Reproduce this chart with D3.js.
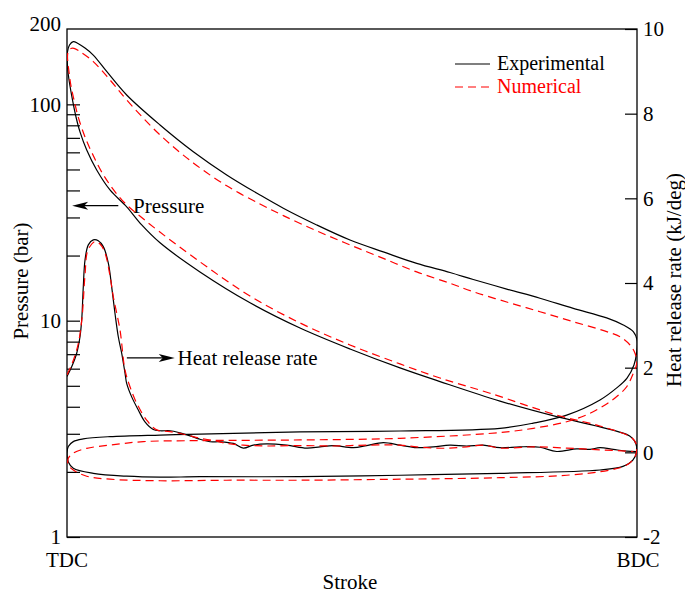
<!DOCTYPE html>
<html>
<head>
<meta charset="utf-8">
<script src="https://cdn.jsdelivr.net/npm/d3@7"></script>
<style>
body { margin: 0; background: #fff; }
text { font-family: "Liberation Serif", "Times New Roman", serif; font-size: 21px; fill: #000; }
</style>
</head>
<body>
<div id="chart"></div>
<script>
// stroke is 0 at TDC and 1 at BDC; pressure in bar; heat release in kJ/deg
var expPressure = [
    [0.0005,157],[0.0009,175],[0.0044,188],[0.011,195],[0.0193,191],[0.0316,182],[0.0461,169],
    [0.0696,142],[0.1047,110.5],[0.1632,80.3],[0.2216,60.4],[0.2802,47.2],[0.3386,38.1],
    [0.3795,33.1],[0.4381,27.7],[0.4965,23.6],[0.5549,20.8],[0.6135,18.4],[0.6719,16.7],
    [0.7128,15.5],[0.7714,14.0],[0.8298,12.7],[0.8882,11.4],[0.9468,10.3],[0.976,9.55],
    [0.9935,8.9],[1.0,8.14],[0.9995,7.17],[0.9947,6.24],[0.9825,5.43],[0.9644,4.89],
    [0.9351,4.30],[0.8767,3.66],[0.8181,3.36],[0.7596,3.18],[0.5842,3.09],[0.4088,3.06],
    [0.2333,2.99],[0.1632,2.96],[0.0754,2.91],[0.0286,2.84],[0.011,2.76],[0.0023,2.62],
    [0,2.44],[0.0023,2.22],[0.011,2.08],[0.0461,1.97],[0.1047,1.91],[0.1632,1.89],
    [0.2333,1.90],[0.4088,1.90],[0.5842,1.93],[0.7596,1.97],[0.9351,2.04],[0.9754,2.12],
    [0.993,2.27],[0.9991,2.47],[0.9982,2.69],[0.9912,2.87],[0.9819,2.98],[0.9351,3.23],
    [0.8591,3.60],[0.7596,4.25],[0.6544,5.23],[0.5842,6.05],[0.4965,7.40],[0.4088,9.25],
    [0.3211,12.1],[0.2333,16.8],[0.1632,22.9],[0.1311,27.7],[0.1047,33.6],[0.0754,40.2],
    [0.0521,49.7],[0.0346,61.5],[0.0228,74.6],[0.0158,87.4],[0.0096,104.8],[0.0023,137]
]

var numPressure = [
    [0.0026,176.6],[0.007,181.3],[0.0123,181.3],[0.0228,175.3],[0.0461,157.6],[0.0754,129.7],
    [0.1047,104.8],[0.1632,72.2],[0.2216,53.6],[0.2802,42.0],[0.3386,34.6],[0.3795,30.6],
    [0.4381,26.0],[0.4965,22.4],[0.5549,19.4],[0.6135,16.8],[0.6719,14.9],[0.7128,13.6],
    [0.7714,12.2],[0.8298,11.0],[0.8882,9.89],[0.9468,8.90],[0.9702,8.43],[0.9877,7.72],
    [0.9965,7.07],[0.9995,6.35],[0.9935,5.71],[0.9819,4.95],[0.9614,4.39],[0.9439,4.08],
    [0.9175,3.73],[0.8767,3.41],[0.8181,3.18],[0.7596,3.04],[0.5842,2.86],[0.4088,2.81],
    [0.2333,2.79],[0.1339,2.76],[0.0754,2.66],[0.0346,2.57],[0.011,2.44],[0.0023,2.31],
    [0.0023,2.15],[0.011,2.04],[0.0346,1.91],[0.0754,1.85],[0.1632,1.82],[0.2802,1.83],
    [0.4088,1.83],[0.5842,1.85],[0.7596,1.88],[0.8767,1.93],[0.9526,2.04],[0.9819,2.15],
    [0.9965,2.35],[0.9995,2.62],[0.9947,2.81],[0.986,2.93],[0.9351,3.26],[0.8591,3.66],
    [0.7421,4.62],[0.6544,5.43],[0.5842,6.31],[0.4965,7.72],[0.4088,9.76],[0.3211,13.0],
    [0.2333,18.7],[0.1398,28.7],[0.0965,36.1],[0.0649,46.7],[0.0439,59.6],[0.0316,70.7],
    [0.0202,86.5],[0.0123,104.8],[0.007,121.6],[0.0035,141.2],[0.0009,167.4]
]

var expHeat = [
    [0,1.79],[0.0082,2.02],[0.017,2.34],[0.0228,2.73],[0.0258,3.13],[0.0286,3.91],[0.0316,4.54],
    [0.0374,4.90],[0.0461,5.02],[0.0549,5.00],[0.0637,4.86],[0.0725,4.47],[0.0784,3.91],
    [0.0842,3.28],[0.09,2.73],[0.096,2.34],[0.1018,1.87],[0.1047,1.63],[0.1135,1.31],
    [0.1251,1.00],[0.1368,0.72],[0.1514,0.54],[0.1632,0.51],[0.1807,0.51],[0.1982,0.46],
    [0.2158,0.39],[0.2333,0.31],[0.2509,0.25],[0.2684,0.25],[0.2918,0.21],[0.3093,0.10],
    [0.3268,0.17],[0.3504,0.20],[0.3854,0.17],[0.4205,0.10],[0.4439,0.13],[0.4672,0.16],
    [0.5023,0.11],[0.5258,0.16],[0.5549,0.23],[0.5842,0.17],[0.6135,0.11],[0.6426,0.13],
    [0.6719,0.17],[0.7012,0.15],[0.7304,0.17],[0.7596,0.11],[0.7947,0.13],[0.8298,0.12],
    [0.8591,0.02],[0.8942,0.08],[0.9175,0.07],[0.9351,0.11],[0.9584,0.07],[0.9819,0.03],[1.0,0.02]
]

var numHeat = [
    [0,1.83],[0.0088,2.09],[0.0193,2.54],[0.0263,3.17],[0.0316,4.19],[0.0368,4.78],[0.0491,4.98],
    [0.0579,4.92],[0.0667,4.71],[0.0754,4.17],[0.0812,3.68],[0.093,2.89],[0.1018,1.94],
    [0.1105,1.55],[0.1223,1.16],[0.1398,0.76],[0.1574,0.53],[0.1807,0.49],[0.21,0.41],
    [0.2333,0.33],[0.2567,0.28],[0.2802,0.21],[0.3093,0.17],[0.3504,0.15],[0.4088,0.16],
    [0.4672,0.15],[0.5258,0.17],[0.5842,0.17],[0.6135,0.13],[0.6426,0.10],[0.6719,0.10],
    [0.7012,0.13],[0.7304,0.17],[0.7596,0.10],[0.8181,0.13],[0.8767,0.10],[0.9351,0.06],[0.9935,0.02]
]

var pressureTicks = [1,2,3,4,5,6,7,8,9,10,20,30,40,50,60,70,80,90,100]
var pressureLabels = [1, 10, 100]
var pressureTopLabel = "200"
var heatTicks = [-2,0,2,4,6,8,10]
var legendNames = ["Experimental", "Numerical"]

var width = 685
var height = 593
var plotLeft = 67, plotRight = 637, plotTop = 29, plotBottom = 537
var dash = "8,5"

var svg = d3.select("#chart").append("svg")
    .attr("width", width)
    .attr("height", height)

var x = d3.scaleLinear().domain([0, 1]).range([plotLeft, plotRight])
var yP = d3.scaleLog().domain([1, 223]).range([plotBottom, plotTop])
var yH = d3.scaleLinear().domain([-2, 10]).range([plotBottom, plotTop])

svg.append("clipPath").attr("id", "plot-clip")
    .append("rect")
    .attr("x", plotLeft).attr("y", plotTop)
    .attr("width", plotRight - plotLeft).attr("height", plotBottom - plotTop)

// left axis, ticks pointing into the plot
var leftAxis = svg.append("g")
    .attr("transform", "translate(" + plotLeft + ",0)")
    .call(d3.axisLeft(yP)
        .tickValues(pressureTicks)
        .tickSize(-13)
        .tickSizeOuter(0)
        .tickPadding(6)
        .tickFormat(function(d) { return pressureLabels.indexOf(d) >= 0 ? d : "" }))
leftAxis.select(".domain").remove()
leftAxis.selectAll("line").attr("stroke", "#000").attr("stroke-width", 1.2)

svg.append("text")
    .attr("x", plotLeft - 6)
    .attr("y", yP.range()[1])
    .attr("dy", "0.1em")
    .attr("text-anchor", "end")
    .text(pressureTopLabel)

var rightAxis = svg.append("g")
    .attr("transform", "translate(" + plotRight + ",0)")
    .call(d3.axisRight(yH)
        .tickValues(heatTicks)
        .tickSize(-12)
        .tickSizeOuter(0)
        .tickPadding(6)
        .tickFormat(function(d) { return String(d) }))
rightAxis.select(".domain").remove()
rightAxis.selectAll("line").attr("stroke", "#000").attr("stroke-width", 1.2)

svg.append("rect")
    .attr("x", plotLeft).attr("y", plotTop)
    .attr("width", plotRight - plotLeft).attr("height", plotBottom - plotTop)
    .attr("fill", "none")
    .attr("stroke", "#000")
    .attr("stroke-width", 1.3)

// curves
var plot = svg.append("g").attr("clip-path", "url(#plot-clip)")

var loopLine = d3.line()
    .x(function(d) { return x(d[0]) })
    .y(function(d) { return yP(d[1]) })
    .curve(d3.curveCatmullRomClosed.alpha(0.5))

var heatLine = d3.line()
    .x(function(d) { return x(d[0]) })
    .y(function(d) { return yH(d[1]) })
    .curve(d3.curveCatmullRom.alpha(0.5))

plot.append("path").attr("d", loopLine(expPressure))
    .attr("fill", "none").attr("stroke", "#000").attr("stroke-width", 1.2)
plot.append("path").attr("d", heatLine(expHeat))
    .attr("fill", "none").attr("stroke", "#000").attr("stroke-width", 1.2)
plot.append("path").attr("d", loopLine(numPressure))
    .attr("fill", "none").attr("stroke", "#f00").attr("stroke-width", 1.2)
    .attr("stroke-dasharray", dash)
plot.append("path").attr("d", heatLine(numHeat))
    .attr("fill", "none").attr("stroke", "#f00").attr("stroke-width", 1.2)
    .attr("stroke-dasharray", dash)

// annotation arrows
function arrow(x1, x2, y, label, labelX) {
    var dir = x2 > x1 ? 1 : -1
    svg.append("line")
        .attr("x1", x1).attr("x2", x2 - dir * 10)
        .attr("y1", y).attr("y2", y)
        .attr("stroke", "#000").attr("stroke-width", 1.2)
    svg.append("path")
        .attr("d", "M" + x2 + "," + y +
            "L" + (x2 - dir * 16) + "," + (y - 4) +
            "L" + (x2 - dir * 12) + "," + y +
            "L" + (x2 - dir * 16) + "," + (y + 4) + "Z")
        .attr("fill", "#000")
    svg.append("text")
        .attr("x", labelX)
        .attr("y", y)
        .attr("dy", "0.35em")
        .text(label)
}
arrow(x(0.09), x(0.009), yP(34), "Pressure", x(0.116))
arrow(x(0.105), x(0.189), yH(2.23), "Heat release rate", x(0.194))

// legend
var legend = svg.append("g")
legendNames.forEach(function(name, i) {
    var ly = 64 + i * 23
    legend.append("line")
        .attr("x1", 455).attr("x2", 490)
        .attr("y1", ly).attr("y2", ly)
        .attr("stroke", i == 0 ? "#000" : "#f00")
        .attr("stroke-width", 1.2)
        .attr("stroke-dasharray", i == 0 ? null : dash)
    legend.append("text")
        .attr("x", 497).attr("y", ly + 6)
        .style("font-size", "20px")
        .style("fill", i == 0 ? "#000" : "#f00")
        .text(name)
})

// axis titles
svg.append("text")
    .attr("transform", "translate(28,281) rotate(-90)")
    .attr("text-anchor", "middle")
    .text("Pressure (bar)")
svg.append("text")
    .attr("transform", "translate(681,280) rotate(-90)")
    .attr("text-anchor", "middle")
    .text("Heat release rate (kJ/deg)")
svg.append("text").attr("x", x(0)).attr("y", 567).attr("text-anchor", "middle").text("TDC")
svg.append("text").attr("x", x(1) + 1).attr("y", 567).attr("text-anchor", "middle").text("BDC")
svg.append("text").attr("x", 350).attr("y", 589).attr("text-anchor", "middle").text("Stroke")
</script>
</body>
</html>
